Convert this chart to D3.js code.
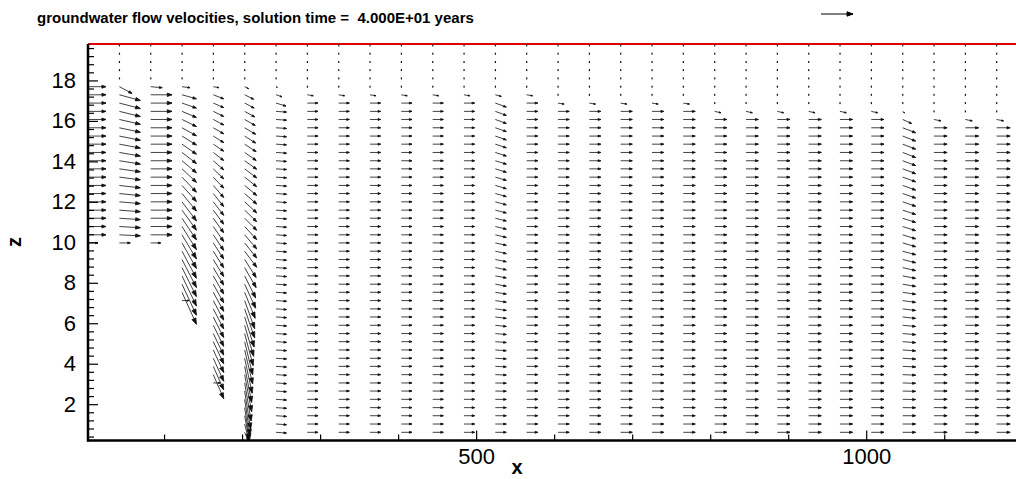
<!DOCTYPE html>
<html>
<head>
<meta charset="utf-8">
<script src="https://cdn.jsdelivr.net/npm/d3@7"></script>
<style>
  html, body { margin: 0; padding: 0; background: #fff; }
  svg { display: block; font-family: "Liberation Sans", Arial, Helvetica, sans-serif; }
</style>
</head>
<body>
<svg id="chart" width="1016" height="479"></svg>
<script>
// ---- grid nodes (m) where vectors are plotted ----
const xCols = [2.5, 42.7, 82.8, 123, 163.1, 203.3, 243.5, 283.6, 323.8, 363.9,
  404.1, 444.3, 484.4, 524.6, 564.7, 604.9, 645.1, 685.2, 725.4, 765.5,
  805.7, 845.9, 886, 926.2, 966.3, 1006.5, 1046.7, 1086.8, 1127, 1167.1];
const zRows = [0.21, 0.61, 1.02, 1.43, 1.83, 2.24, 2.65, 3.05, 3.46, 3.87,
  4.27, 4.68, 5.09, 5.49, 5.9, 6.31, 6.71, 7.12, 7.53, 7.93,
  8.34, 8.75, 9.15, 9.56, 9.97, 10.37, 10.78, 11.19, 11.59, 12.0,
  12.41, 12.81, 13.22, 13.63, 14.03, 14.44, 14.85, 15.25, 15.66, 16.07,
  16.47, 16.88, 17.29, 17.69, 18.1, 18.51, 18.91, 19.32, 19.73];

// row index of the uppermost vector (water table) and the lowest one, per column
const topRow    = [43, 43, 43, 43, 43, 43, 43, 42, 42, 42, 42, 42, 42, 42, 42,
                   41, 41, 41, 41, 41, 40, 40, 40, 40, 40, 40, 40, 39, 39, 39];
const bottomRow = [24, 24, 24, 17, 7, 1, 1, 1, 1, 1, 1, 1, 1, 1, 1,
                   1, 1, 1, 1, 1, 1, 1, 1, 1, 1, 1, 1, 1, 1, 1];

// velocities [u, w] of the first vectors below the water table, top-down
const surfaceVel = [
  [], [[6.35, -3.35]], [[5.8, -0.5]], [[4, -0.5]], [[2.85, -0.5]], [[2, -1]],
  [[0.7, -0.3], [3, -1], [5, -1.5]],
  [[3, -0.5]], [[3, -0.5]], [[3, -0.5]], [[3, -0.5]], [[3, -0.5]], [[3, -0.5]],
  [[3, -0.8]], [[3, -0.5]],
  [[3.1, -0.5]], [[3.1, -0.5]], [[3.1, -0.5]], [[3.1, -0.5]], [[3.1, -0.5]],
  [[3.2, -0.7]], [[3.2, -0.7]], [[3.2, -0.7]], [[3.2, -0.7]], [[3.2, -0.7]], [[3.2, -0.7]],
  [[1, -0.75], [4.5, -2]],
  [[3.5, -0.7]], [[3.5, -0.7]], [[3.5, -0.7]]
];
// vector at the bottom of the stepped columns
const baseVel = [[5, 0], [5.5, 0], [5.1, 0], [3.5, 0], [3.5, 0]];

// body of each column: horizontal / vertical velocity (single value or top-down list)
const w1 = [-2.85, -2.7, -2.55, -2.4, -2.25, -2.1, -1.95, -1.8, -1.65, -1.5,
  -1.35, -1.2, -1.05, -0.9, -0.8, -0.7, -0.6, -0.5];
const w3 = [-2, -2.5, -3, -3.5, -4, -4.5, -5, -5.5, -6, -6.75, -7.5, -8, -8.75,
  -9.5, -10, -10.75, -11.5, -12, -12.75, -13.5, -14, -14.5, -15, -15.5, -16];
const w4 = [-2, -2.25, -2.5, -2.75, -3, -3.25, -3.5, -4, -4.5, -5, -5.5, -6, -6.5,
  -6.75, -7, -7.25, -7.5, -7.75, -8, -8.25, -8.5, -8.75, -9, -9.25, -9.5, -9.75,
  -10, -10.25, -10.5, -10.75, -11, -11.25, -11.5, -11.75, -12];
const u5 = [4.5, 4.75, 5, 5.25, 5.5, 5.5, 5.75, 5.75, 6, 6, 6, 6, 6, 6, 6, 6, 6, 6, 6, 6,
  5.75, 5.75, 5.5, 5.5, 5.25, 5, 5, 4.75, 4.5, 4.25, 4, 4, 3.75, 3.5, 3.5,
  3.25, 3, 2.75, 2.5, 2.25, 2, 1.75];
const w5 = [-2.25, -2.5, -2.75, -3, -3.25, -3.5, -3.75, -4, -4.25, -4.5, -4.75, -5,
  -5.25, -5.5, -5.75, -6, -6.5, -7, -7.5, -8, -9, -10, -11, -12, -13, -14, -14.5,
  -15, -15.5, -16, -16.5, -17, -17.5, -18, -18.5, -19, -19, -18, -16, -12, -8, -4];
const w13 = [-2, -2, -2, -1.9, -1.9, -1.8, -1.8, -1.7, -1.7, -1.6, -1.6, -1.5, -1.5,
  -1.4, -1.4, -1.3, -1.3, -1.2, -1.2, -1.1, -1.1, -1, -1, -0.9, -0.8, -0.75, -0.7,
  -0.6, -0.5, -0.45, -0.4, -0.3, -0.25, -0.2, -0.15, -0.1, -0.05, 0, 0, 0, 0];
const w26 = [-2.5, -2.5, -2.5, -2.5, -2.4, -2.4, -2.3, -2.3, -2.25, -2.2, -2.15, -2.1,
  -2.05, -2, -1.9, -1.75, -1.6, -1.5, -1.25, -1.1, -1, -0.9, -0.8, -0.7, -0.6,
  -0.55, -0.5, -0.45, -0.4, -0.3, -0.25, -0.2, -0.15, -0.1, -0.05, 0, 0, 0];

const bodyU = [9, 10.5, 10.7, 7.2, 5.2, u5, 5.25, 5.35, 5.35, 5.35, 5.35, 5.35, 5.35,
  5.5, 5.6, 5.65, 5.75, 5.85, 5.9, 6.0, 6.1, 6.2, 6.35, 6.35, 6.35, 6.35, 6.5, 6.6, 6.7, 6.8];
const bodyW = [0, w1, 0, w3, w4, w5, -0.35, 0, 0, 0, 0, 0, 0, w13, 0,
  0, 0, 0, 0, 0, 0, 0, 0, 0, 0, 0, w26, 0, 0, 0];

const refVel = 16;               // reference vector magnitude
const xMajor = [500, 1000];
const xMinor = [100, 200, 300, 400, 600, 700, 800, 900, 1100];
const zMajor = [2, 4, 6, 8, 10, 12, 14, 16, 18];

const titleText = "groundwater flow velocities, solution time =  4.000E+01 years";

// ---- layout ----
const svg = d3.select("#chart");
const mLeft = 88, mRight = 1016, mTop = 44, mBottom = 440.5;

const x = d3.scaleLinear().domain([2.5, 1192]).range([mLeft, mRight]);
const z = d3.scaleLinear().domain([0.206, 19.8]).range([mBottom, mTop]);
const vlen = d3.scaleLinear().domain([0, refVel]).range([0, 32]);

svg.append("defs").append("clipPath").attr("id", "plotclip")
  .append("rect").attr("x", mLeft).attr("y", mTop - 2)
  .attr("width", mRight - mLeft).attr("height", mBottom - mTop + 2);

// build vector list
const pick = (v, i) => Array.isArray(v) ? (v[i] !== undefined ? v[i] : v[v.length - 1]) : v;
const vectors = [], dots = [];
xCols.forEach((xc, k) => {
  const t = topRow[k], b = bottomRow[k];
  const surf = surfaceVel[k], base = baseVel[k];
  for (let j = t + 1; j < zRows.length; j++) dots.push({ x: xc, z: zRows[j] });
  for (let j = t; j >= b; j--) {
    const n = t - j;
    let v;
    if (n < surf.length) v = surf[n];
    else if (base && j === b) v = base;
    else v = [pick(bodyU[k], n - surf.length), pick(bodyW[k], n - surf.length)];
    vectors.push({ x: xc, z: zRows[j], u: v[0], w: v[1] });
  }
});

function arrowPath(x0, y0, dx, dy) {
  const len = Math.hypot(dx, dy);
  if (len < 0.05) return "";
  const ux = dx / len, uy = dy / len;
  const hl = Math.min(6, 0.2 * len + 0.5), hw = hl * 0.36;
  const x1 = x0 + dx, y1 = y0 + dy;
  const bx = x1 - ux * hl, by = y1 - uy * hl;
  return `M${x0},${y0}L${x1},${y1}M${x1},${y1}L${bx - uy * hw},${by + ux * hw}L${bx + uy * hw},${by - ux * hw}Z`;
}

// top boundary (red)
svg.append("line")
  .attr("x1", mLeft).attr("x2", mRight).attr("y1", mTop).attr("y2", mTop)
  .attr("stroke", "#e00000").attr("stroke-width", 2);

const plot = svg.append("g").attr("clip-path", "url(#plotclip)");

plot.selectAll(".dot")
  .data(dots)
  .enter().append("rect")
  .attr("class", "dot")
  .attr("x", d => x(d.x) - 0.5)
  .attr("y", d => z(d.z) - 1)
  .attr("width", 1.2)
  .attr("height", 2)
  .attr("fill", "#111");

plot.selectAll(".vec")
  .data(vectors)
  .enter().append("path")
  .attr("class", "vec")
  .attr("d", d => arrowPath(x(d.x), z(d.z), vlen(d.u), -vlen(d.w)))
  .attr("fill", "#111")
  .attr("stroke", "#111")
  .attr("stroke-width", 0.8);

// axes
const fontSize = 22;
const yAxis = svg.append("g").attr("transform", `translate(${mLeft},0)`)
  .call(d3.axisLeft(z).tickValues(zMajor).tickFormat(d3.format("d"))
    .tickSize(-10).tickSizeOuter(0).tickPadding(12));
svg.append("g").attr("transform", `translate(${mLeft},0)`)
  .call(d3.axisLeft(z).tickValues(d3.range(0.4, 19.7, 0.4).filter(v => Math.abs(v / 2 - Math.round(v / 2)) > 0.01))
    .tickFormat("").tickSize(-6).tickSizeOuter(0))
  .call(g => g.select(".domain").remove());

const xAxis = svg.append("g").attr("transform", `translate(0,${mBottom})`)
  .call(d3.axisBottom(x).tickValues(xMajor).tickFormat(d3.format("d"))
    .tickSize(-10).tickSizeOuter(0).tickPadding(8));
svg.append("g").attr("transform", `translate(0,${mBottom})`)
  .call(d3.axisBottom(x).tickValues(xMinor).tickFormat("").tickSize(-6).tickSizeOuter(0))
  .call(g => g.select(".domain").remove());

[yAxis, xAxis].forEach(g => {
  g.select(".domain").attr("stroke", "#000").attr("stroke-width", 2.5);
  g.selectAll(".tick text").attr("fill", "#000")
    .style("font-size", fontSize + "px")
    .style("font-family", "'Liberation Sans', Arial, sans-serif");
});
svg.selectAll(".tick line").attr("stroke", "#000").attr("stroke-width", 1.2);
// left axis spans from the bottom axis to the top boundary
yAxis.select(".domain").attr("d", `M0,${mBottom + 1}V${mTop}`);
xAxis.select(".domain").attr("d", `M${mLeft - 1},0H${mRight}`);

// axis titles
svg.append("text")
  .attr("transform", `translate(21,242) rotate(-90)`)
  .attr("text-anchor", "middle")
  .style("font-weight", "bold").style("font-size", "20px")
  .text("z");
svg.append("text")
  .attr("x", 517).attr("y", 474)
  .attr("text-anchor", "middle")
  .style("font-weight", "bold").style("font-size", "20px")
  .text("x");

// title
svg.append("text")
  .attr("x", 37).attr("y", 23)
  .style("font-weight", "bold").style("font-size", "15px")
  .style("white-space", "pre")
  .text(titleText);

// reference vector
svg.append("path")
  .attr("d", arrowPath(821, 14, vlen(refVel), 0))
  .attr("fill", "#000").attr("stroke", "#000").attr("stroke-width", 1);
</script>
</body>
</html>
